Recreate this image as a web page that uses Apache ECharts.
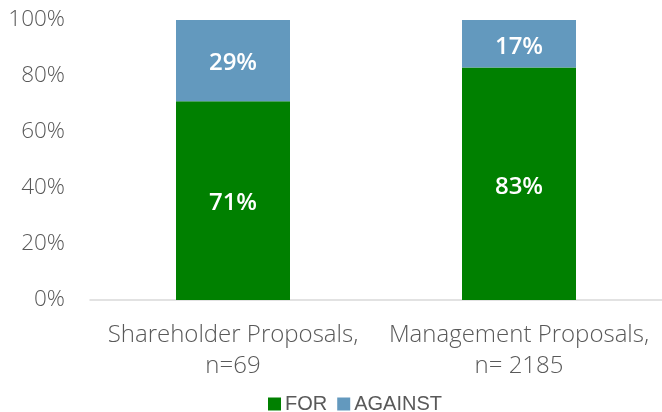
<!DOCTYPE html>
<html>
<head>
<meta charset="utf-8">
<script src="https://cdn.jsdelivr.net/npm/echarts@6/dist/echarts.min.js"></script>
<style>
  html, body { margin: 0; padding: 0; background: #fff; }
  #chart { width: 662px; height: 412px; }
</style>
</head>
<body>
<div id="chart"></div>
<script>
const categories = ['Shareholder Proposals,\nn=69', 'Management Proposals,\nn= 2185'];
const forValues = [71, 83];
const againstValues = [29, 17];
const yTicks = [0, 20, 40, 60, 80, 100];

const chart = echarts.init(document.getElementById('chart'));

const barLabel = {
  show: true,
  position: 'inside',
  offset: [0, 3],
  color: '#fff',
  fontSize: 24,
  fontWeight: 600,
  fontFamily: 'Open Sans',
  formatter: p => p.value + '%'
};

chart.setOption({
  animation: false,
  grid: { left: 90, right: -6, top: 20, bottom: 112 },
  legend: {
    top: 394,
    left: 268,
    padding: 0,
    itemWidth: 13,
    itemHeight: 13,
    itemGap: 10,
    icon: 'rect',
    textStyle: { fontSize: 20, color: '#595959', fontFamily: 'Liberation Sans', padding: [0, 0, 0, -1] },
    data: ['FOR', 'AGAINST']
  },
  xAxis: {
    type: 'category',
    data: categories,
    axisLine: { lineStyle: { color: '#d9d9d9', width: 1.5 } },
    axisTick: { show: false },
    axisLabel: {
      interval: 0,
      hideOverlap: false,
      color: '#595959',
      fontSize: 24,
      fontFamily: 'Open Sans',
      fontWeight: 300,
      lineHeight: 31,
      margin: 20
    }
  },
  yAxis: {
    type: 'value',
    min: yTicks[0],
    max: yTicks[yTicks.length - 1],
    interval: 20,
    splitLine: { show: false },
    axisLine: { show: false },
    axisTick: { show: false },
    axisLabel: {
      color: '#595959',
      fontSize: 22.5,
      fontFamily: 'Open Sans',
      fontWeight: 300,
      margin: 25,
      formatter: v => v + '%'
    }
  },
  series: [
    {
      name: 'FOR',
      type: 'bar',
      stack: 'total',
      barWidth: 114,
      data: forValues,
      itemStyle: { color: '#008000' },
      label: barLabel
    },
    {
      name: 'AGAINST',
      type: 'bar',
      stack: 'total',
      barWidth: 114,
      data: againstValues,
      itemStyle: { color: '#6399be' },
      label: barLabel
    }
  ]
});
</script>
</body>
</html>
